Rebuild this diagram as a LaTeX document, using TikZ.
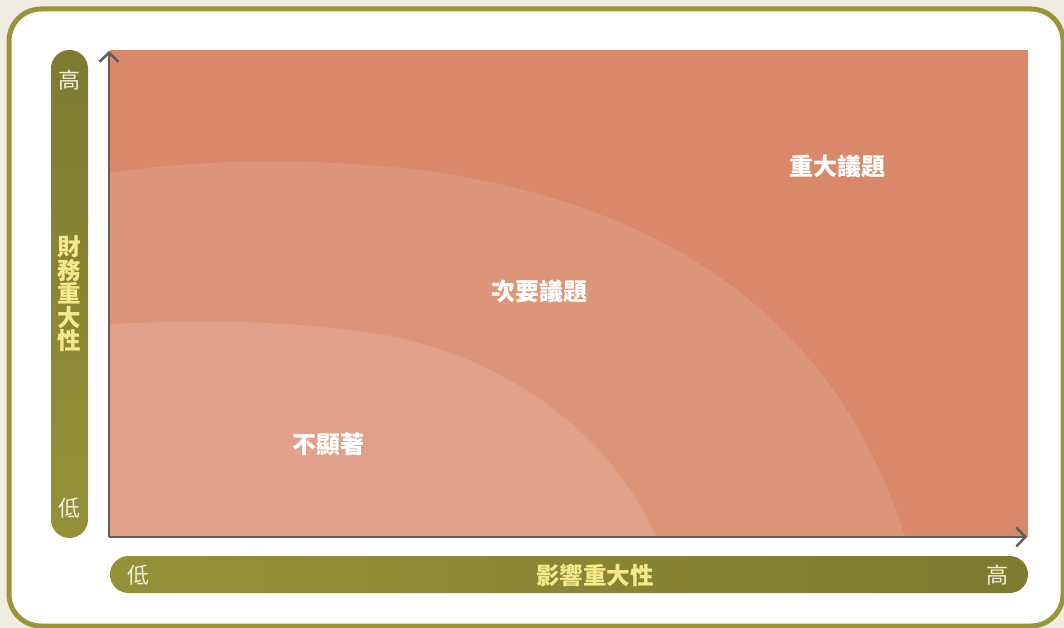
\documentclass[tikz,border=0pt]{standalone}
\usepackage{fontspec}
\usepackage{tikz}
\usetikzlibrary{arrows.meta}
\newfontfamily\cjk{Noto Sans CJK TC}

\definecolor{fondo}{HTML}{EFECE2}
\definecolor{marco}{HTML}{979537}
\definecolor{olivaA}{HTML}{7E7A30}
\definecolor{olivaB}{HTML}{959139}
\definecolor{zonaA}{HTML}{D9886A}
\definecolor{zonaB}{HTML}{DD9579}
\definecolor{zonaC}{HTML}{E0A089}
\definecolor{ejes}{HTML}{5E5E5E}
\definecolor{amarillo}{HTML}{F4E98A}
\definecolor{crema}{HTML}{F3F0DC}

\tikzset{
  eje/.style={draw=ejes, line width=2.5pt, -{Straight Barb[length=9pt,width=19pt,line width=2.5pt]}},
  tema/.style={text=white, font=\cjk\bfseries\fontsize{24}{24}\selectfont},
  extremo/.style={text=crema, font=\cjk\fontsize{22}{22}\selectfont},
  titulo/.style={text=amarillo, font=\cjk\bfseries\fontsize{23.5}{23.5}\selectfont, align=center}
}

\begin{document}
\begin{tikzpicture}[x=1pt, y=-1pt]
  \useasboundingbox (0,0) rectangle (1064,628);
  \fill[fondo] (0,0) rectangle (1064,628);
  \clip (0,0) rectangle (1064,628);
  % Marco
  \draw[marco, fill=white, line width=5pt, rounded corners=32pt] (9,9) rectangle (1063,626);

  % Barras
  \shade[top color=olivaA, bottom color=olivaB, rounded corners=18.5pt] (51,50) rectangle (88,538);
  \shade[left color=olivaB, right color=olivaA, rounded corners=18.5pt] (110,556) rectangle (1028,593);

  % Zonas
  \fill[zonaA] (110,50) rectangle (1028,537);
  \fill[zonaB] (110,537) -- (110,173)
    .. controls (180,162) and (290,155) .. (420,170)
    .. controls (680,205) and (840,330) .. (905,537) -- cycle;
  \fill[zonaC] (110,537) -- (110,324)
    .. controls (200,320) and (290,320) .. (380,334)
    .. controls (500,355) and (610,430) .. (656,537) -- cycle;

  % Ejes
  \coordinate (origen) at (109,537);
  \coordinate (ytope) at (109,51);
  \coordinate (xfin) at (1027,537);
  \draw[eje] (origen) -- (ytope);
  \draw[eje] (origen) -- (xfin);

  % Nodos
  \node[tema] (mayor) at (837,166) {重大議題};
  \node[tema] (menor) at (539,291) {次要議題};
  \node[tema] (nada) at (328,444) {不顯著};

  \node[extremo] (yalto) at (69,80) {高};
  \node[extremo] (ybajo) at (69,508) {低};
  \node[titulo] (financiero) at (69,294) {財\\務\\重\\大\\性};

  \node[extremo] (xbajo) at (138,575) {低};
  \node[extremo] (xalto) at (997,575) {高};
  \node[titulo] (impacto) at (595,575) {影響重大性};
\end{tikzpicture}
\end{document}
